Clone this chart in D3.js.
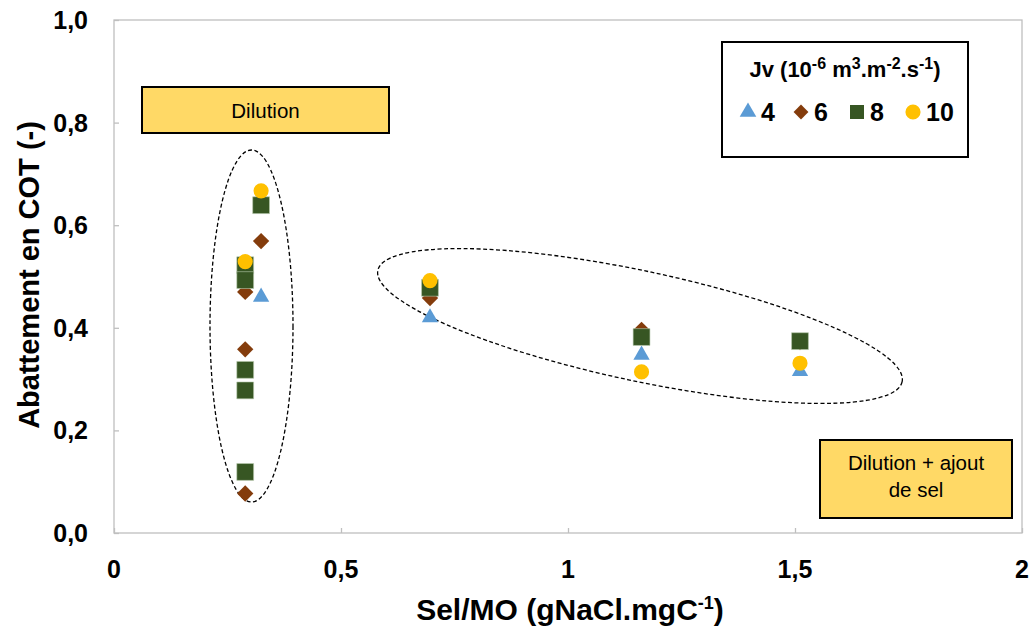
<!DOCTYPE html>
<html><head><meta charset="utf-8">
<script src="https://cdn.jsdelivr.net/npm/d3@7"></script>
<style>body{margin:0;background:#fff;} svg{display:block;font-family:"Liberation Sans",Arial,sans-serif;}</style>
</head><body>
<svg id="c" width="1035" height="632"></svg>
<script>
// Data: [Sel/MO, Abattement]
const jv4  = [[0.324,0.460],[0.696,0.420],[1.162,0.347],[1.511,0.315]];
const jv6  = [[0.324,0.569],[0.289,0.470],[0.289,0.358],[0.289,0.077],[0.696,0.458],[1.162,0.396],[1.511,0.372]];
const jv8  = [[0.324,0.639],[0.289,0.522],[0.289,0.493],[0.289,0.318],[0.289,0.278],[0.289,0.119],[0.696,0.478],[1.162,0.382],[1.511,0.374]];
const jv10 = [[0.324,0.667],[0.289,0.529],[0.696,0.492],[1.162,0.314],[1.511,0.331]];
const seriesNames = ["4","6","8","10"];
const xTicks = [0,0.5,1,1.5,2];
const yTicks = [0,0.2,0.4,0.6,0.8,1.0];

const svg = d3.select("#c");
const L=114, R=1022, T=20, B=533;
const x = d3.scaleLinear().domain([0,2]).range([L,R]);
const y = d3.scaleLinear().domain([0,1]).range([B,T]);
const fmt = d => String(d).replace(".",",");
const fmtY = d => d3.format(".1f")(d).replace(".",",");

// plot border
svg.append("rect").attr("x",L).attr("y",T).attr("width",R-L).attr("height",B-T)
  .attr("fill","none").attr("stroke","#bfbfbf").attr("stroke-width",1.3);

// axes
const yAxis = svg.append("g").attr("transform",`translate(${L},0)`)
  .call(d3.axisRight(y).tickValues(yTicks).tickSize(5).tickFormat(""));
yAxis.select(".domain").remove();
yAxis.selectAll("line").attr("stroke","#bfbfbf").attr("stroke-width",1.3);
const xAxis = svg.append("g").attr("transform",`translate(0,${B})`)
  .call(d3.axisTop(x).tickValues(xTicks).tickSize(5).tickFormat(""));
xAxis.select(".domain").remove();
xAxis.selectAll("line").attr("stroke","#bfbfbf").attr("stroke-width",1.3);

// tick labels
svg.append("g").selectAll("text").data(yTicks).join("text")
  .attr("x",88).attr("y",d=>y(d)).attr("dy","0.36em").attr("text-anchor","end")
  .attr("font-size",25).attr("font-weight","bold").text(fmtY);
svg.append("g").selectAll("text").data(xTicks).join("text")
  .attr("x",d=>x(d)).attr("y",569).attr("dy","0.36em").attr("text-anchor","middle")
  .attr("font-size",25).attr("font-weight","bold").text(fmt);

// axis titles
svg.append("text").attr("transform","translate(29,275) rotate(-90)").attr("text-anchor","middle")
  .attr("dy","0.36em").attr("font-size",29).attr("font-weight","bold").text("Abattement en COT (-)");
const xt = svg.append("text").attr("x",570).attr("y",609).attr("dy","0.36em").attr("text-anchor","middle")
  .attr("font-size",30).attr("font-weight","bold");
xt.append("tspan").text("Sel/MO (gNaCl.mgC");
xt.append("tspan").attr("font-size",18).attr("dy",-11).text("-1");
xt.append("tspan").attr("dy",11).text(")");

// ellipses
svg.append("ellipse").attr("cx",251.5).attr("cy",326).attr("rx",41.5).attr("ry",176)
  .attr("fill","none").attr("stroke","#000").attr("stroke-width",1.3).attr("stroke-dasharray","4,2.5");
svg.append("ellipse").attr("cx",0).attr("cy",0).attr("rx",268).attr("ry",55)
  .attr("transform","translate(640,326) rotate(12)")
  .attr("fill","none").attr("stroke","#000").attr("stroke-width",1.3).attr("stroke-dasharray","4,2.5");

// annotation boxes
svg.append("rect").attr("x",142).attr("y",87).attr("width",247).attr("height",46)
  .attr("fill","#ffd966").attr("stroke","#000").attr("stroke-width",2);
svg.append("text").attr("x",265.5).attr("y",111).attr("dy","0.35em").attr("text-anchor","middle")
  .attr("font-size",20.5).text("Dilution");
svg.append("rect").attr("x",820).attr("y",440).attr("width",192).attr("height",78)
  .attr("fill","#ffd966").attr("stroke","#000").attr("stroke-width",2);
svg.append("text").attr("x",916).attr("y",463).attr("dy","0.35em").attr("text-anchor","middle")
  .attr("font-size",20.5).text("Dilution + ajout");
svg.append("text").attr("x",916).attr("y",490).attr("dy","0.35em").attr("text-anchor","middle")
  .attr("font-size",20.5).text("de sel");

// markers
const styles = [
  {data:jv4, sym:d3.symbolTriangle, size:115, fill:"#5b9bd5"},
  {data:jv6, sym:d3.symbolDiamond2, size:170, fill:"#843c0c"},
  {data:jv8, sym:d3.symbolSquare2, size:360, fill:"#375623"},
  {data:jv10, sym:d3.symbolCircle, size:180, fill:"#ffc000"}
];
styles.forEach(s=>{
  svg.append("g").selectAll("path").data(s.data).join("path")
    .attr("transform",d=>`translate(${x(d[0])},${y(d[1])})`)
    .attr("d",d3.symbol(s.sym, s.size)()).attr("fill",s.fill)
    .attr("stroke", s.sym===d3.symbolSquare2 ? "#b7c9ac" : "none").attr("stroke-width",0.6);
});

// legend
svg.append("rect").attr("x",722).attr("y",42).attr("width",246).attr("height",115)
  .attr("fill","#fff").attr("stroke","#000").attr("stroke-width",2);
const lt = svg.append("text").attr("x",845).attr("y",77).attr("text-anchor","middle")
  .attr("font-size",22).attr("font-weight","bold");
lt.append("tspan").text("Jv (10");
lt.append("tspan").attr("font-size",16).attr("dy",-8).text("-6");
lt.append("tspan").attr("dy",8).text(" m");
lt.append("tspan").attr("font-size",16).attr("dy",-8).text("3");
lt.append("tspan").attr("dy",8).text(".m");
lt.append("tspan").attr("font-size",16).attr("dy",-8).text("-2");
lt.append("tspan").attr("dy",8).text(".s");
lt.append("tspan").attr("font-size",16).attr("dy",-8).text("-1");
lt.append("tspan").attr("dy",8).text(")");
const legX = [748, 801, 857, 913];
const legSizes = [120, 140, 250, 180];
styles.forEach((s,i)=>{
  svg.append("path").attr("transform",`translate(${legX[i]},112)`)
    .attr("d",d3.symbol(s.sym, legSizes[i])()).attr("fill",s.fill);
  svg.append("text").attr("x",legX[i]+13).attr("y",112).attr("dy","0.36em")
    .attr("font-size",25).attr("font-weight","bold").text(seriesNames[i]);
});
</script>
</body></html>
